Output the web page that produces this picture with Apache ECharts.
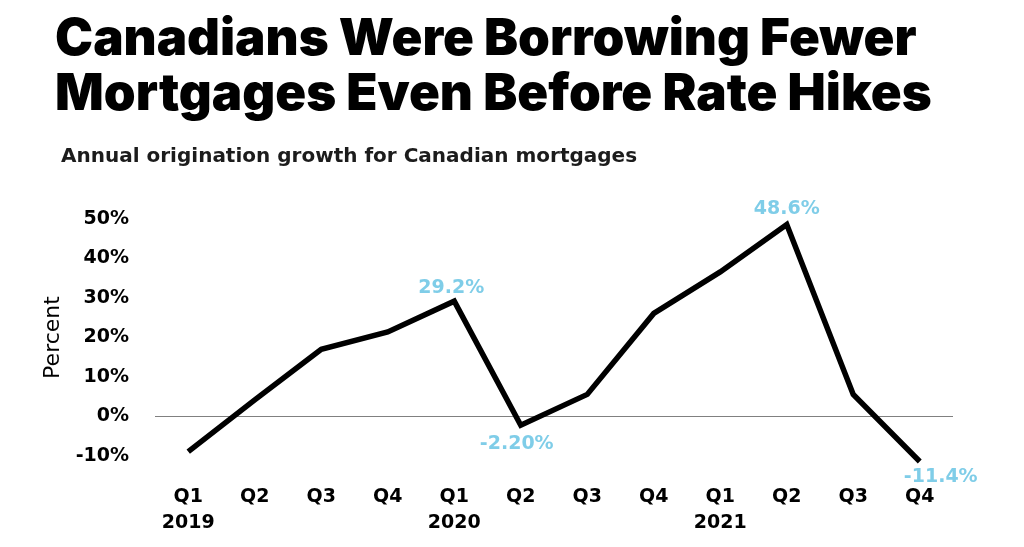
<!DOCTYPE html>
<html>
<head>
<meta charset="utf-8">
<script src="https://cdn.jsdelivr.net/npm/echarts@6/dist/echarts.min.js"></script>
<style>
html,body{margin:0;padding:0;background:#fff;}
#main{width:1024px;height:547px;}
</style>
</head>
<body>
<div id="main"></div>
<script>
const categories = ['Q1\n2019','Q2','Q3','Q4','Q1\n2020','Q2','Q3','Q4','Q1\n2021','Q2','Q3','Q4'];
const growth = [-8.9, 4.2, 17.0, 21.4, 29.2, -2.2, 5.6, 26.1, 36.6, 48.6, 5.6, -11.4];
const labelTexts = ['', '', '', '', '29.2%', '-2.20%', '', '', '', '48.6%', '', '-11.4%'];
const yTicks = {min: -10, max: 50, interval: 10};

const TITLE_FONT = 'Inter, "Open Sans", sans-serif';
const BODY_FONT = '"DejaVu Sans", sans-serif';
const labelPos = {4: ['top', [-3, 2]], 5: ['bottom', [-4, 3]], 9: ['top', [0, 0]], 11: ['bottom', [21, 0]]};

const seriesData = growth.map((v, i) => {
  const item = {value: v};
  if (labelTexts[i]) {
    const p = labelPos[i];
    item.label = {
      show: true, position: p[0], offset: p[1],
      formatter: labelTexts[i],
      color: '#7fcde8', fontFamily: BODY_FONT, fontWeight: 'bold', fontSize: 19
    };
  }
  return item;
});

const chart = echarts.init(document.getElementById('main'));
chart.setOption({
  backgroundColor: '#fff',
  animation: false,
  title: [
    {
      text: 'Canadians Were Borrowing Fewer\nMortgages Even Before Rate Hikes',
      left: 50, top: 7,
      textStyle: {fontFamily: TITLE_FONT, fontWeight: 900, fontSize: 51, lineHeight: 55, color: '#000'}
    },
    {
      text: 'Annual origination growth for Canadian mortgages',
      left: 56, top: 140,
      textStyle: {fontFamily: BODY_FONT, fontWeight: 'bold', fontSize: 20, lineHeight: 24, color: '#1c1c1c'}
    }
  ],
  grid: {left: 155, right: 71, top: 219, bottom: 91, containLabel: false},
  xAxis: {
    type: 'category',
    data: categories,
    boundaryGap: true,
    axisLine: {show: false, onZero: false},
    axisTick: {show: false},
    axisLabel: {
      interval: 0, margin: 28,
      fontFamily: BODY_FONT, fontWeight: 'bold', fontSize: 19, lineHeight: 26, color: '#000'
    },
    splitLine: {show: false}
  },
  yAxis: {
    type: 'value',
    min: yTicks.min, max: yTicks.max, interval: yTicks.interval,
    name: 'Percent',
    nameLocation: 'middle',
    nameGap: 86,
    nameRotate: 90,
    nameTextStyle: {fontFamily: BODY_FONT, fontWeight: 'normal', fontSize: 22, color: '#000'},
    axisLine: {show: false},
    axisTick: {show: false},
    splitLine: {show: false},
    axisLabel: {
      formatter: '{value}%', margin: 26,
      fontFamily: BODY_FONT, fontWeight: 'bold', fontSize: 19, color: '#000'
    }
  },
  series: [{
    type: 'line',
    data: seriesData,
    clip: false,
    symbol: 'circle',
    symbolSize: 2,
    showSymbol: true,
    showAllSymbol: true,
    itemStyle: {color: 'rgba(0,0,0,0)'},
    lineStyle: {color: '#000', width: 5.5, join: 'miter'},
    z: 3,
    markLine: {
      silent: true,
      symbol: 'none',
      label: {show: false},
      lineStyle: {color: '#808080', width: 1, type: 'solid'},
      data: [{yAxis: 0}],
      z: 1
    }
  }]
});
</script>
</body>
</html>
